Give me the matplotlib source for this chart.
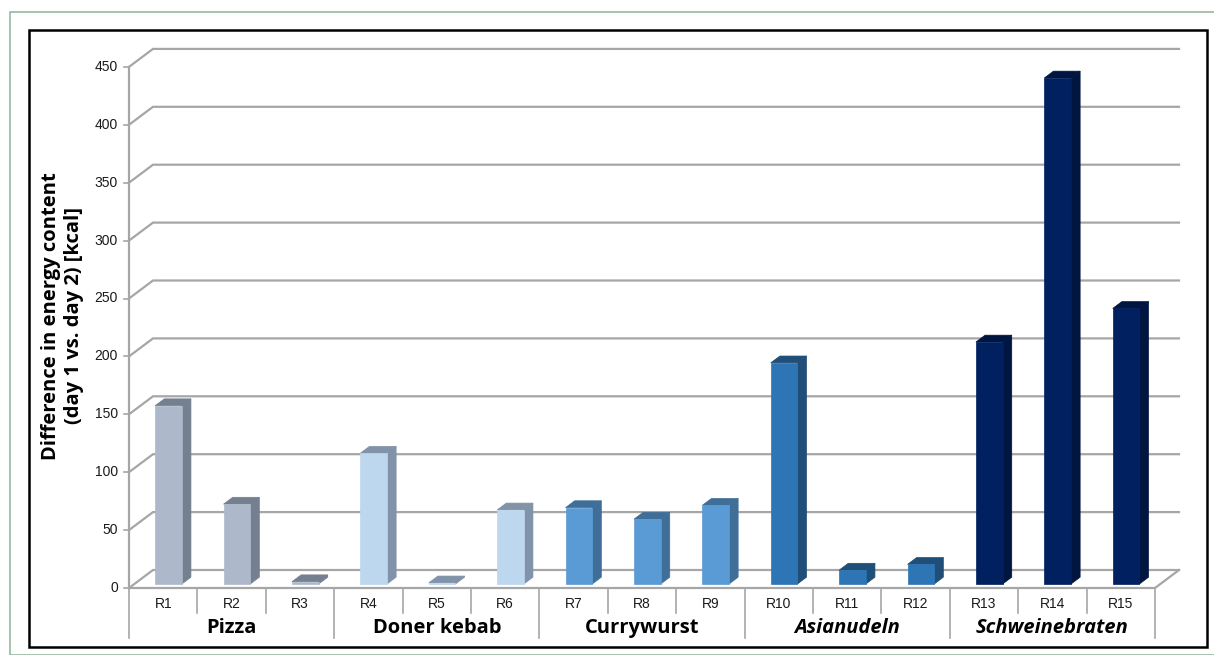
import matplotlib.pyplot as plt
from matplotlib.patches import Polygon, Rectangle

# data
restaurants = ["R1", "R2", "R3", "R4", "R5", "R6", "R7", "R8", "R9",
               "R10", "R11", "R12", "R13", "R14", "R15"]
values = [154, 69, 2, 113, 1, 64, 66, 56, 68, 191, 12, 17, 209, 437, 238]
groups = ["Pizza", "Doner kebab", "Currywurst", "Asianudeln", "Schweinebraten"]
group_italic = [False, False, False, True, True]
front_colors = ["#ADB9CA", "#BDD7EE", "#5B9BD5", "#2E75B6", "#002060"]
side_colors = ["#747F8F", "#8093A8", "#3F6F99", "#1F4E79", "#001640"]
yticks = [0, 50, 100, 150, 200, 250, 300, 350, 400, 450]

W, H = 1214, 655
fig = plt.figure(figsize=(W / 100, H / 100), dpi=100)

# frames
fig.patches.append(Rectangle((10 / W, 0), 1.2, 1 - 12 / H, transform=fig.transFigure,
                             fill=False, ec="#9BB8A3", lw=1.2))
fig.patches.append(Rectangle((29 / W, 1 - 647 / H), (1207 - 29) / W, (647 - 30) / H,
                             transform=fig.transFigure, fill=False, ec="black", lw=1.8))

px_cat = 68.4
px_val = 1.158
ax = fig.add_axes([129 / W, (H - 588) / H, 15.5 * px_cat / W, 470 * px_val / H])
ax.set_xlim(0, 15.5)
ax.set_ylim(0, 470)
ax.axis("off")

n = len(values)
dx, dy = 24 / px_cat, 18 / px_val   # depth of the plot box
grid_c = "#A6A6A6"

# back wall gridlines and left wall diagonals
for v in yticks:
    ax.plot([0, dx, n + dx], [v, v + dy, v + dy], color=grid_c, lw=1.6,
            solid_joinstyle="miter", clip_on=False, zorder=1)
    ax.plot([-5 / px_cat, 0], [v, v], color=grid_c, lw=1.2, clip_on=False)
    ax.text(-11 / px_cat, v, str(v), ha="right", va="center", fontsize=10,
            family="Liberation Sans", color="#1a1a1a")
# floor
ax.plot([0, n, n + dx], [0, 0, dy], color=grid_c, lw=1.6, clip_on=False, zorder=1)
ax.plot([0, 0], [0, 450], color=grid_c, lw=1.6, clip_on=False, zorder=1)

# bars
f0, f1 = 0.22, 0.6
bw = 0.39
for i, v in enumerate(values):
    g = i // 3
    x0 = i + 0.5 - bw / 2 + f0 * dx
    x1 = x0 + bw
    b = f0 * dy
    t = b + v
    ddx, ddy = (f1 - f0) * dx, (f1 - f0) * dy
    ax.add_patch(Polygon([(x1, b), (x1 + ddx, b + ddy), (x1 + ddx, t + ddy), (x1, t)],
                         closed=True, fc=side_colors[g], ec=side_colors[g], lw=0.5, zorder=3))
    ax.add_patch(Polygon([(x0, t), (x1, t), (x1 + ddx, t + ddy), (x0 + ddx, t + ddy)],
                         closed=True, fc=side_colors[g], ec=side_colors[g], lw=0.5, zorder=3))
    ax.add_patch(Rectangle((x0, b), bw, v, fc=front_colors[g], ec=front_colors[g],
                           lw=0.5, zorder=4))

# category axis
to_val = 1 / px_val
for i in range(n + 1):
    depth = 50 if i % 3 == 0 else 25
    ax.plot([i, i], [0, -depth * to_val], color=grid_c, lw=1.2, clip_on=False)
for i, r in enumerate(restaurants):
    ax.text(i + 0.5, -16 * to_val, r, ha="center", va="center", fontsize=10,
            family="Liberation Sans", color="#1a1a1a")
for k, gname in enumerate(groups):
    ax.text(3 * k + 1.5, -40 * to_val, gname, ha="center", va="center", fontsize=14.5,
            family="Open Sans", weight="bold", style="italic" if group_italic[k] else "normal")

fig.text(63 / W, 1 - 316 / H, "Difference in energy content\n(day 1 vs. day 2) [kcal]",
         rotation=90, ha="center", va="center", fontsize=14.5, family="Open Sans",
         weight="bold", linespacing=1.2)

fig.savefig("out.png", dpi=100)
